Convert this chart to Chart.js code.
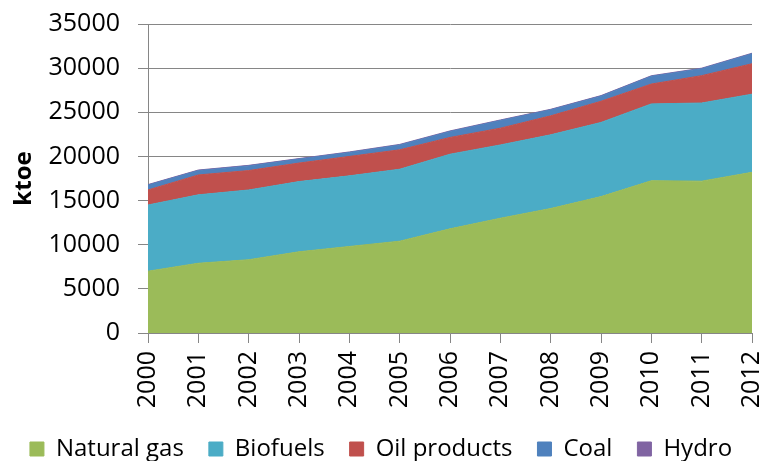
<!DOCTYPE html>
<html>
<head>
<meta charset="utf-8">
<script src="https://cdn.jsdelivr.net/npm/chart.js@4"></script>
<style>
  html, body { margin: 0; padding: 0; background: #fff; }
  #wrap { width: 762px; height: 461px; }
</style>
</head>
<body>
<div id="wrap"><canvas id="chart" width="762" height="461"></canvas></div>
<script>
const years = ['2000', '2001', '2002', '2003', '2004', '2005', '2006', '2007', '2008', '2009', '2010', '2011', '2012'];

const naturalGas = [7000, 7900, 8300, 9200, 9800, 10400, 11800, 13000, 14100, 15450, 17250, 17200, 18200];
const biofuels = [7500, 7750, 7900, 7950, 8000, 8150, 8450, 8300, 8350, 8400, 8700, 8850, 8850];
const oilProducts = [1700, 2250, 2200, 2100, 2200, 2200, 1900, 1900, 2150, 2400, 2250, 3100, 3450];
const coal = [550, 500, 530, 450, 450, 550, 680, 870, 680, 580, 880, 790, 1130];
const hydro = [60, 60, 60, 60, 60, 60, 60, 60, 60, 60, 60, 60, 60];

const yTicks = [0, 5000, 10000, 15000, 20000, 25000, 30000, 35000];

const FONT = '"Open Sans", "Liberation Sans", sans-serif';
const LEGEND_SHIFT = 10;

function area(label, data, color, fill) {
  return {
    label,
    data,
    backgroundColor: color,
    borderColor: color,
    borderWidth: 1,
    pointRadius: 0,
    fill,
    tension: 0,
  };
}

// year labels hang below the x box, legend sits a bit lower
const layoutTweak = {
  id: 'layoutTweak',
  afterLayout(chart) {
    const lg = chart.legend;
    if (lg) {
      lg.top += LEGEND_SHIFT;
      lg.bottom += LEGEND_SHIFT;
    }
    chart.scales.x.bottom = chart.height;
  },
};

new Chart(document.getElementById('chart'), {
  type: 'line',
  data: {
    labels: years,
    datasets: [
      area('Natural gas', naturalGas, '#9BBB59', 'origin'),
      area('Biofuels', biofuels, '#4BACC6', '-1'),
      area('Oil products', oilProducts, '#C0504D', '-1'),
      area('Coal', coal, '#4F81BD', '-1'),
      area('Hydro', hydro, '#8064A2', '-1'),
    ],
  },
  plugins: [layoutTweak],
  options: {
    responsive: false,
    animation: false,
    layout: { padding: { left: 0, right: 0, top: 24, bottom: 0 } },
    plugins: {
      tooltip: { enabled: false },
      legend: {
        position: 'bottom',
        labels: {
          font: { family: FONT, size: 24 },
          color: '#000',
          boxWidth: 14,
          boxHeight: 14,
          padding: 25,
        },
      },
    },
    scales: {
      x: {
        offset: false,
        grid: { display: true, drawOnChartArea: false, drawTicks: true, tickLength: 10, color: '#868686' },
        border: { color: '#868686' },
        ticks: {
          color: '#000',
          font: { family: FONT, size: 25 },
          minRotation: 90,
          maxRotation: 90,
          padding: 8,
        },
        afterFit: (s) => {
          s.height = 69;
          s.paddingLeft = 0;
          s.paddingRight = 10;
        },
      },
      y: {
        stacked: true,
        min: 0,
        max: 35000,
        afterBuildTicks: (s) => { s.ticks = yTicks.map((v) => ({ value: v })); },
        grid: { color: '#868686', tickLength: 10 },
        border: { color: '#868686' },
        ticks: {
          color: '#000',
          font: { family: FONT, size: 25 },
          padding: 18,
          callback: (v) => String(v),
        },
        title: {
          display: true,
          text: 'ktoe',
          color: '#000',
          font: { family: FONT, size: 24, weight: 'bold' },
          padding: { top: 10, bottom: 0 },
        },
        afterFit: (s) => {
          s.width = 148;
          s.paddingTop = 0;
          s.paddingBottom = 0;
        },
      },
    },
  },
});
</script>
</body>
</html>
